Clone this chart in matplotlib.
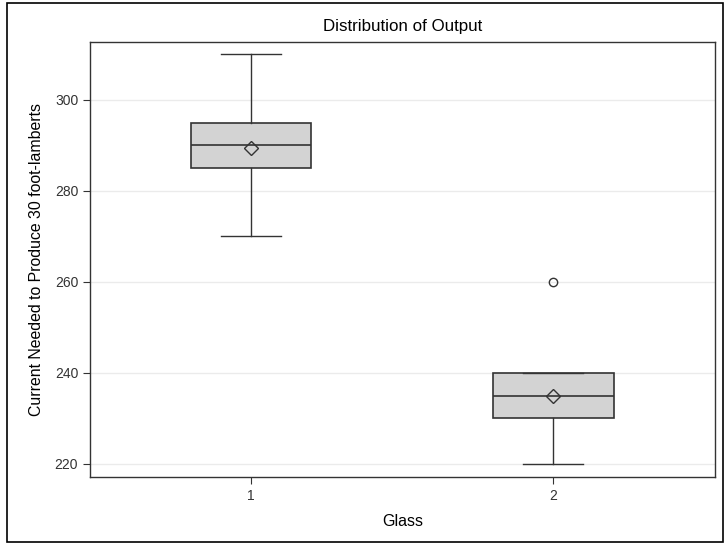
import matplotlib
matplotlib.use("Agg")
import matplotlib.pyplot as plt
from matplotlib.patches import Rectangle

plt.rcParams["font.family"] = ["Liberation Sans", "DejaVu Sans"]

# box statistics
glass   = ["1", "2"]
q1      = [285, 230]
median  = [290, 235]
q3      = [295, 240]
w_low   = [270, 220]
w_high  = [310, 240]
means   = [289.3, 235.0]
outliers = [[], [260]]

stats = []
for i, g in enumerate(glass):
    stats.append({
        "label": g, "q1": q1[i], "med": median[i], "q3": q3[i],
        "whislo": w_low[i], "whishi": w_high[i], "mean": means[i],
        "fliers": outliers[i],
    })

fig = plt.figure(figsize=(7.27, 5.45), dpi=100)
ax = fig.add_axes([90 / 727, 1 - 477 / 545, 625 / 727, 435 / 545])

edge = "#333333"
ax.bxp(stats, positions=[1, 2], widths=0.4, patch_artist=True, showmeans=True,
       boxprops=dict(facecolor="#D3D3D3", edgecolor=edge, linewidth=1.2),
       medianprops=dict(color=edge, linewidth=1.2),
       whiskerprops=dict(color=edge, linewidth=1.0),
       capprops=dict(color=edge, linewidth=1.0),
       capwidths=0.2,
       meanprops=dict(marker="D", markerfacecolor="none", markeredgecolor=edge,
                      markersize=7, markeredgewidth=1.0),
       flierprops=dict(marker="o", markerfacecolor="none", markeredgecolor=edge,
                       markersize=6, markeredgewidth=1.0))

ax.set_xlim(0.467, 2.536)
ax.set_ylim(217.1, 312.7)
ax.set_yticks([220, 240, 260, 280, 300])
ax.yaxis.grid(True, color="#EBEBEB", linewidth=1.0)
ax.set_axisbelow(True)
ax.tick_params(labelsize=10, colors="#333333", length=5)
for s in ax.spines.values():
    s.set_color("#333333")
    s.set_linewidth(1.0)

ax.set_xlabel("Glass", fontsize=11.5, labelpad=8)
ax.set_ylabel("Current Needed to Produce 30 foot-lamberts", fontsize=11.4, labelpad=8)
ax.set_title("Distribution of Output", fontsize=12.2, pad=8)

# outer frame
fig.patches.append(Rectangle((7 / 727, 3 / 545), 716 / 727, 539 / 545,
                             transform=fig.transFigure, fill=False,
                             edgecolor="black", linewidth=1.2))

plt.savefig("out.png", dpi=100)
plt.close()
